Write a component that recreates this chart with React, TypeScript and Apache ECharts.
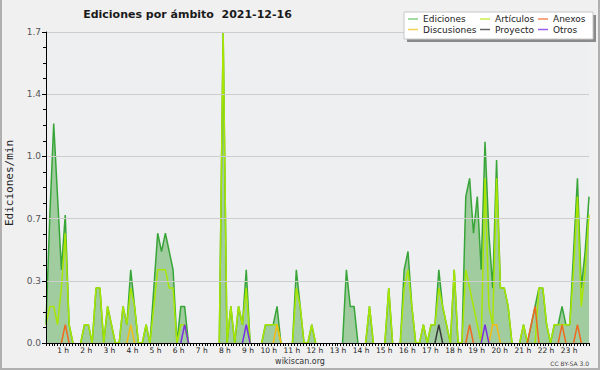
import React, { useEffect, useRef } from "react";
import * as echarts from "echarts";

// 10-minute bins from 00:00 to 23:30 (142 samples), values in edits/min
const SLOTS = 142;
const SLOTS_PER_HOUR = 6;

const ediciones = [
  0.1, 0.7, 1.2, 0.8, 0.4, 0.7,
  0.1, 0, 0, 0, 0.1, 0.1,
  0, 0.3, 0.3, 0, 0.2, 0.1,
  0, 0, 0.2, 0.1, 0.4, 0.2,
  0, 0, 0.1, 0, 0.3, 0.6,
  0.5, 0.6, 0.5, 0.4, 0, 0.2,
  0.2, 0, 0, 0, 0, 0,
  0, 0, 0, 0, 1.7, 0,
  0.2, 0, 0.2, 0.1, 0.4, 0,
  0, 0, 0, 0.1, 0.1, 0.1,
  0.2, 0, 0, 0, 0, 0.4,
  0.2, 0, 0, 0.1, 0, 0,
  0, 0, 0, 0, 0, 0,
  0.4, 0.2, 0.2, 0, 0, 0,
  0.2, 0, 0, 0, 0, 0.3,
  0, 0, 0, 0.4, 0.5, 0.2,
  0, 0, 0.1, 0, 0.1, 0.1,
  0.4, 0.2, 0.1, 0, 0.4, 0,
  0, 0.8, 0.9, 0.6, 0.8, 0.4,
  1.1, 0.6, 0.3, 1.0, 0.3, 0.3,
  0.2, 0, 0, 0, 0.1, 0,
  0.1, 0.2, 0.3, 0.3, 0.1, 0,
  0.1, 0.1, 0.2, 0.1, 0.1, 0.5,
  0.9, 0.3, 0.5, 0.8,
];

const articulos = [
  0.1, 0.2, 0.2, 0.1, 0.3, 0.6,
  0.1, 0, 0, 0, 0.1, 0.1,
  0, 0.3, 0.3, 0, 0.2, 0.1,
  0, 0, 0.2, 0.1, 0.3, 0.2,
  0, 0, 0.1, 0, 0.2, 0.4,
  0.4, 0.4, 0.3, 0.3, 0, 0.1,
  0.1, 0, 0, 0, 0, 0,
  0, 0, 0, 0, 1.7, 0,
  0.2, 0, 0.2, 0.1, 0.3, 0,
  0, 0, 0, 0.1, 0.1, 0.1,
  0.1, 0, 0, 0, 0, 0.3,
  0.2, 0, 0, 0.1, 0, 0,
  0, 0, 0, 0, 0, 0,
  0, 0, 0, 0, 0, 0,
  0.2, 0, 0, 0, 0, 0.3,
  0, 0, 0, 0.3, 0.4, 0.2,
  0, 0, 0.1, 0, 0.1, 0.1,
  0.3, 0.2, 0.1, 0, 0.4, 0,
  0, 0.4, 0.3, 0.2, 0.1, 0,
  0.9, 0.2, 0.1, 0.9, 0.3, 0.3,
  0.2, 0, 0, 0, 0.1, 0,
  0, 0, 0.3, 0.3, 0.1, 0,
  0.1, 0.1, 0.1, 0.1, 0.1, 0.4,
  0.8, 0.2, 0.4, 0.7,
];

// sparse series: [slot index, value]
const discusionesPoints: [number, number][] = [[22, 0.1], [60, 0.1], [116, 0.1], [117, 0.1]];
const anexosPoints: [number, number][] = [[5, 0.1], [110, 0.1], [126, 0.1], [127, 0.2], [134, 0.1], [138, 0.1]];
const proyectoPoints: [number, number][] = [[102, 0.1]];
const otrosPoints: [number, number][] = [[36, 0.1], [52, 0.1], [114, 0.1]];

const yTicks = { max: 1.7, step: 0.34 };

const FONT = '"DejaVu Sans", Verdana, sans-serif';

function expand(points: [number, number][]) {
  const a: number[] = new Array(SLOTS).fill(0);
  points.forEach(([i, v]) => (a[i] = v));
  return a;
}

// hide runs of zeros so that baseline segments don't paint over the axis
function toSeriesData(arr: number[]) {
  return arr.map((v, i) => {
    const prev = i === 0 ? 0 : arr[i - 1];
    const next = i === arr.length - 1 ? 0 : arr[i + 1];
    const hidden = v === 0 && prev === 0 && next === 0;
    return [i, hidden ? "-" : v];
  });
}

const seriesDefs = [
  { name: "Ediciones", values: ediciones, line: "#38a538", legend: "#86cf86", area: "#a0cca0" },
  { name: "Artículos", values: articulos, line: "#a8e600", legend: "#c8ee4a" },
  { name: "Discusiones", values: expand(discusionesPoints), line: "#f4bb10", legend: "#f2d050" },
  { name: "Anexos", values: expand(anexosPoints), line: "#f06a20", legend: "#f08a58" },
  { name: "Proyecto", values: expand(proyectoPoints), line: "#3a3a3a", legend: "#666666" },
  { name: "Otros", values: expand(otrosPoints), line: "#7a30e0", legend: "#9a5cf0" },
];

const legendColumns = [
  { left: 408, names: ["Ediciones", "Discusiones"] },
  { left: 480, names: ["Artículos", "Proyecto"] },
  { left: 538, names: ["Anexos", "Otros"] },
];

export default function App() {
  const ref = useRef<HTMLDivElement>(null);
  useEffect(() => {
    const chart = echarts.init(ref.current!, null, { renderer: "svg" });
    const colorOf = (n: string) => seriesDefs.find((s) => s.name === n)!.legend;
    const option: any = {
      animation: false,
      backgroundColor: "#f0f0f0",
      grid: {
        left: 46,
        right: 11,
        top: 32,
        bottom: 27,
        show: true,
        backgroundColor: "#eeeff1",
        borderWidth: 0,
      },
      xAxis: {
        type: "value",
        min: 0,
        max: SLOTS - 1,
        interval: 1.5,
        z: 10,
        axisLine: { show: true, onZero: false, lineStyle: { color: "#000", width: 1 } },
        axisTick: { show: true, length: 3, lineStyle: { color: "#000" } },
        minorTick: { show: true, splitNumber: 2, length: 3, lineStyle: { color: "#000" } },
        splitLine: { show: false },
        axisLabel: {
          formatter: (v: number) =>
            v > 0 && v % SLOTS_PER_HOUR === 0 ? `${v / SLOTS_PER_HOUR} h` : "",
          align: "right",
          margin: 3,
          fontSize: 7.5,
          color: "#222",
          fontFamily: FONT,
          hideOverlap: false,
        },
      },
      yAxis: {
        type: "value",
        min: 0,
        max: yTicks.max,
        interval: yTicks.step,
        z: 10,
        axisLine: { show: true, lineStyle: { color: "#000", width: 1 } },
        axisTick: { show: true, length: 4, lineStyle: { color: "#000" } },
        minorTick: { show: true, splitNumber: 4, length: 3, lineStyle: { color: "#000" } },
        splitLine: { show: true, lineStyle: { color: "#cdcdcd", width: 1 } },
        axisLabel: {
          formatter: (v: number) => v.toFixed(1),
          margin: 5,
          fontSize: 9,
          color: "#555",
          fontFamily: FONT,
        },
      },
      legend: legendColumns.map((col) => ({
        orient: "vertical",
        left: col.left,
        top: 14,
        padding: 0,
        itemGap: 0.5,
        itemWidth: 10,
        itemHeight: 1.5,
        icon: "rect",
        selectedMode: false,
        z: 20,
        textStyle: { fontSize: 9, fontFamily: FONT, color: "#222", lineHeight: 10 },
        data: col.names.map((n) => ({ name: n, itemStyle: { color: colorOf(n) } })),
      })),
      series: seriesDefs.map((s, k) => ({
        type: "line",
        name: s.name,
        data: toSeriesData(s.values),
        showSymbol: false,
        symbol: "none",
        z: 2 + k,
        lineStyle: { color: s.line, width: 1.5 },
        itemStyle: { color: s.legend },
        areaStyle: s.area ? { color: s.area, opacity: 1 } : undefined,
        emphasis: { disabled: true },
      })),
      graphic: [
        {
          type: "text",
          x: 187.5,
          y: 14,
          z: 30,
          style: {
            text: "Ediciones por ámbito  2021-12-16",
            font: `bold 11px ${FONT}`,
            fill: "#1a1a1a",
            align: "center",
            verticalAlign: "middle",
            textAlign: "center",
            textVerticalAlign: "middle",
          },
        },
        {
          type: "text",
          x: 9,
          y: 183,
          rotation: Math.PI / 2,
          z: 30,
          style: {
            text: "Ediciones/min",
            font: `11px "DejaVu Sans Mono", monospace`,
            fill: "#222",
            align: "center",
            verticalAlign: "middle",
            textAlign: "center",
            textVerticalAlign: "middle",
          },
        },
        {
          type: "text",
          x: 300,
          y: 361,
          z: 30,
          style: {
            text: "wikiscan.org",
            font: `8px ${FONT}`,
            fill: "#333",
            align: "center",
            verticalAlign: "middle",
            textAlign: "center",
            textVerticalAlign: "middle",
          },
        },
        {
          type: "text",
          x: 589,
          y: 363,
          z: 30,
          style: {
            text: "CC BY-SA 3.0",
            font: `6px ${FONT}`,
            fill: "#444",
            align: "right",
            verticalAlign: "middle",
            textAlign: "right",
            textVerticalAlign: "middle",
          },
        },
        {
          type: "rect",
          z: 15,
          shape: { x: 407, y: 15, width: 189, height: 27 },
          style: { fill: "#8a8a8a" },
        },
        {
          type: "rect",
          z: 16,
          shape: { x: 404, y: 12, width: 189, height: 27 },
          style: { fill: "#ffffff", stroke: "#c8c8c8", lineWidth: 1 },
        },
        {
          type: "line",
          z: 30,
          shape: { x1: 1, y1: 0, x2: 1, y2: 370 },
          style: { stroke: "#b0b0b0", lineWidth: 2 },
        },
        {
          type: "line",
          z: 30,
          shape: { x1: 599, y1: 0, x2: 599, y2: 370 },
          style: { stroke: "#b0b0b0", lineWidth: 2 },
        },
        {
          type: "line",
          z: 30,
          shape: { x1: 0, y1: 369, x2: 600, y2: 369 },
          style: { stroke: "#b0b0b0", lineWidth: 2 },
        },
      ],
    };
    chart.setOption(option);
    return () => chart.dispose();
  }, []);
  return (
    <div
      ref={ref}
      style={{ position: "absolute", left: 0, top: 0, width: 600, height: 370 }}
    />
  );
}
